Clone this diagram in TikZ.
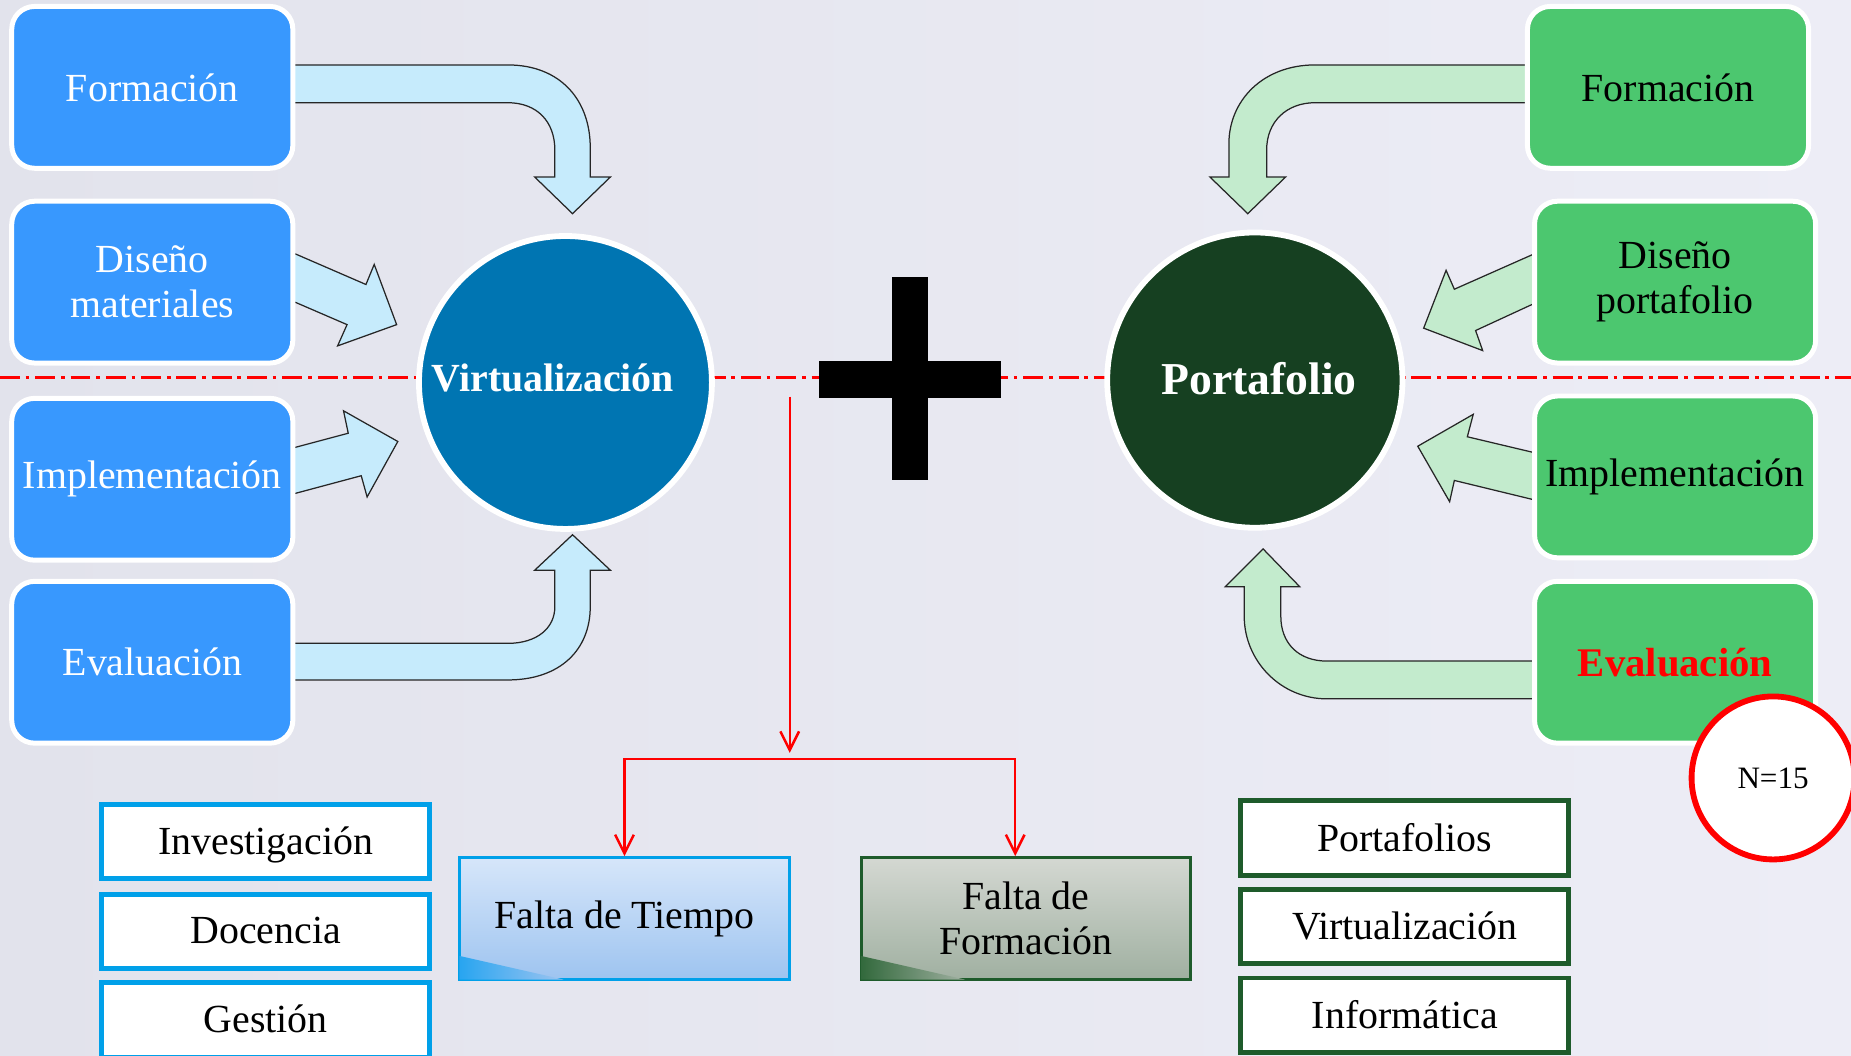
\documentclass[tikz,border=0pt]{standalone}
\usepackage{fontspec}
\setmainfont{Liberation Serif}
\usepackage{tikz}
\usetikzlibrary{calc}
\usetikzlibrary{arrows.meta}

\definecolor{fondoA}{RGB}{226,227,236}
\definecolor{fondoB}{RGB}{237,237,246}
\definecolor{azulcaja}{RGB}{56,152,254}
\definecolor{verdecaja}{RGB}{76,199,111}
\definecolor{azulflecha}{RGB}{198,235,252}
\definecolor{verdeflecha}{RGB}{195,235,205}
\definecolor{azulcirc}{RGB}{0,117,178}
\definecolor{verdecirc}{RGB}{22,64,33}
\definecolor{azullista}{RGB}{0,160,233}
\definecolor{verdelista}{RGB}{30,91,43}
\definecolor{tiempoA}{RGB}{214,230,250}
\definecolor{tiempoB}{RGB}{158,196,240}
\definecolor{tiempoC}{RGB}{40,165,240}
\definecolor{formA}{RGB}{212,216,210}
\definecolor{formB}{RGB}{160,176,161}
\definecolor{formC}{RGB}{50,105,60}

\begin{document}
\begin{tikzpicture}[x=0.01cm,y=-0.01cm,
	caja/.style={draw=white,line width=1.2pt,rounded corners=5.5pt,minimum width=2.38cm,minimum height=1.37cm,align=center,inner sep=0pt,font=\fontsize{9.6}{10.8}\selectfont},
	circulo/.style={circle,draw=white,line width=1.4pt,text=white,inner sep=0pt},
	flechaA/.style={fill=azulflecha,draw=black!85,line width=0.3pt},
	flechaV/.style={fill=verdeflecha,draw=black!85,line width=0.3pt},
	lista/.style={fill=white,line width=1.2pt,minimum width=2.78cm,minimum height=0.63cm,inner sep=0pt,text depth=0.5pt,font=\fontsize{9.6}{12}\selectfont},
	falta/.style={line width=0.7pt,minimum width=2.79cm,minimum height=1.03cm,align=center,inner sep=0pt,font=\fontsize{9.6}{10.8}\selectfont},
	roja/.style={draw=red,line width=0.6pt,-{Straight Barb[length=4.5pt,width=4.5pt]}}]
	\shade[left color=fondoA,right color=fondoB] (0,0) rectangle (1568,894);
	\useasboundingbox (0,0) rectangle (1568,894);
	\draw[red,line width=0.7pt,dash pattern=on 4.8pt off 1.4pt on 0.9pt off 1.4pt] (0,320)--(1568,320);

	\draw[flechaA] (250,55)--(430,55) .. controls (475,55) and (500,85) .. (500,125)--(500,150)--(517,150)--(485,181)--(453,150)--(470,150)--(470,127) .. controls (470,103) and (455,87) .. (430,87)--(250,87);
	\draw[flechaA] (250,215)--(310,241)--(317,224)--(336,275)--(286,293)--(294,275)--(250,256);
	\draw[flechaA] (250,379)--(295,367)--(291,348)--(337,374)--(311,421)--(306,403)--(250,418);
	\draw[flechaA] (250,576)--(430,576) .. controls (475,576) and (500,550) .. (500,514)--(500,483)--(517,483)--(485,453)--(453,483)--(470,483)--(470,514) .. controls (470,532) and (455,545) .. (430,545)--(250,545);

	\draw[flechaV] (1296,55)--(1114,55) .. controls (1070,55) and (1041,85) .. (1041,122)--(1041,150)--(1025,150)--(1057,181)--(1089,150)--(1073,150)--(1073,127) .. controls (1073,103) and (1090,87) .. (1114,87)--(1296,87);
	\draw[flechaV] (1302,214)--(1232,245)--(1225,229)--(1206,278)--(1256,297)--(1250,280)--(1302,256);
	\draw[flechaV] (1302,384)--(1243,370)--(1248,351)--(1201,378)--(1228,425)--(1232,407)--(1302,424);
	\draw[flechaV] (1302,560)--(1124,560) .. controls (1100,560) and (1085,545) .. (1085,522)--(1085,497)--(1101,497)--(1070,465)--(1038,497)--(1054,497)--(1054,522) .. controls (1054,560) and (1085,592) .. (1124,592)--(1302,592);

	\foreach \n/\y/\t in {vform/74/Formación,vdis/239/{Diseño\\materiales},vimp/406/Implementación,veva/561/Evaluación}
		{\node[caja,fill=azulcaja,text=white] (\n) at (129,\y) {\t};
	};
	\foreach \n/\x/\y/\t in {pform/1413/74/Formación,pdis/1419/239/{Diseño\\portafolio},pimp/1419/404/Implementación}
		{\node[caja,fill=verdecaja] (\n) at (\x,\y) {\t};
	};
	\node[caja,fill=verdecaja,text=red,font=\bfseries\fontsize{9.8}{10.8}\selectfont] (peva) at (1419,561) {Evaluación};

	\node[circulo,fill=azulcirc,minimum size=2.48cm,font=\bfseries\fontsize{9.6}{11}\selectfont] (virt) at (479,324) {\raisebox{2.4pt}{Virtualización}\hspace*{6pt}};
	\node[circulo,fill=verdecirc,minimum size=2.5cm,font=\bfseries\fontsize{11}{13}\selectfont] (port) at (1063,322) {\hspace*{2pt}\raisebox{1pt}{Portafolio}};
	\fill (756,235) rectangle (786,407);
	\fill (694,306) rectangle (848,337);

	\node[circle,draw=red,fill=white,line width=1.4pt,minimum size=1.38cm,inner sep=0pt,font=\fontsize{7.5}{9}\selectfont] (muestra) at (1502,659) {N=15};

	\node[falta,draw=azullista,top color=tiempoA,bottom color=tiempoB] (tiempo) at (529,778) {\raisebox{-3pt}{Falta de Tiempo}};
	\shade[left color=tiempoC,right color=tiempoB] ($(tiempo.south west)+(1,-1)$)--++(0,-20)--++(88,20)--cycle;
	\node[falta,draw=verdelista,top color=formA,bottom color=formB] (falform) at (869,778) {Falta de\\Formación};
	\shade[left color=formC,right color=formB] ($(falform.south west)+(1,-1)$)--++(0,-20)--++(88,20)--cycle;

	\coordinate (corte) at (669,336);
	\coordinate (reparto) at (669,643);
	\draw[roja] (corte)--([yshift=1.5pt]reparto);
	\draw[roja] (reparto) -| (tiempo.north);
	\draw[roja] (reparto) -| ($(falform.north)+(-9,0)$);

	\foreach \n/\y/\t in {inv/713/Investigación,doc/789/Docencia,ges/864/Gestión}
		{\node[lista,draw=azullista] (\n) at (225,\y) {\t};
	};
	\foreach \n/\y/\t in {lport/710/Portafolios,lvirt/785/Virtualización,linf/860/Informática}
		{\node[lista,draw=verdelista] (\n) at (1190,\y) {\t};
	};
\end{tikzpicture}
\end{document}
